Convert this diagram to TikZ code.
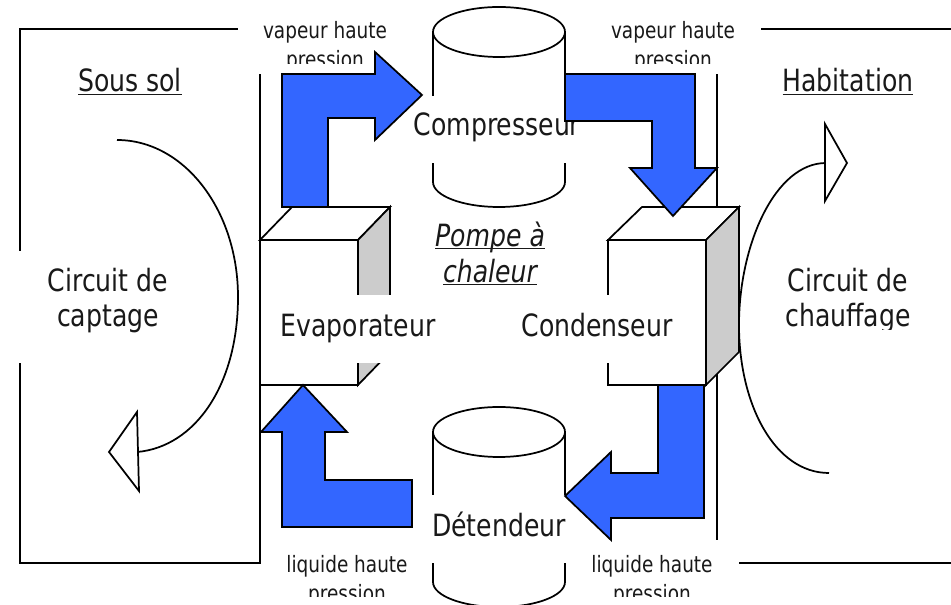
\documentclass[tikz,border=0pt]{standalone}
\usepackage{fontspec}
\setmainfont[FakeStretch=0.82]{DejaVu Sans}
\definecolor{flowblue}{HTML}{3366FF}
\definecolor{sidegray}{HTML}{CCCCCC}
\newcommand{\ulin}[1]{\underline{\smash{#1}}}
\tikzset{
  wire/.style={line width=1.3pt,line join=miter},
  flow/.style={wire,fill=flowblue},
  mask/.style={fill=white,draw=none},
  bigtxt/.style={inner sep=0pt,align=center,text=black!90,font=\fontsize{23}{26.25}\selectfont},
  smalltxt/.style={inner sep=0pt,align=center,text=black!90,font=\fontsize{16.9}{21.75}\selectfont}
}
\begin{document}
\begin{tikzpicture}[x=0.75pt,y=-0.75pt]
\clip (0,0) rectangle (951,605);
\fill[white] (0,0) rectangle (951,605);

% enclosures
\draw[wire] (20,29) rectangle (260,563);
\draw[wire] (951,29) -- (717,29) -- (717,563) -- (951,563);

% circuits
\draw[wire] (117,140) .. controls (184,140) and (238,210) .. (238,297) .. controls (238,385) and (195,447) .. (137,452);
\draw[wire] (826,163) .. controls (775,163) and (739,245) .. (739,325) .. controls (739,405) and (775,473) .. (829,473);
\draw[wire,fill=white] (109,452) -- (137,412) -- (139,491) -- cycle;
\draw[wire,fill=white] (825,124) -- (847,163) -- (825,201) -- cycle;

% cylinders
\draw[wire,fill=white] (433,32) -- (433,182) arc[start angle=180,end angle=0,x radius=66,y radius=25] -- (565,32);
\draw[wire,fill=white] (499,32) ellipse[x radius=66,y radius=25];
\draw[wire,fill=white] (433,432) -- (433,582) arc[start angle=180,end angle=0,x radius=66,y radius=25] -- (565,432);
\draw[wire,fill=white] (499,432) ellipse[x radius=66,y radius=25];

% cubes
\draw[wire,fill=white] (260,240) rectangle (358,385);
\draw[wire,fill=white] (260,240) -- (292,207) -- (390,207) -- (358,240) -- cycle;
\draw[wire,fill=sidegray] (358,240) -- (390,207) -- (390,352) -- (358,385) -- cycle;
\draw[wire,fill=white] (608,240) rectangle (706,385);
\draw[wire,fill=white] (608,240) -- (642,207) -- (739,207) -- (706,240) -- cycle;
\draw[wire,fill=sidegray] (706,240) -- (739,207) -- (739,352) -- (706,385) -- cycle;

% white boxes behind the texts
\fill[mask] (238,0) rectangle (420,74);
\fill[mask] (585,0) rectangle (761,74);
\fill[mask] (262,540) rectangle (432,605);
\fill[mask] (590,540) rectangle (739,605);
\fill[mask] (15,251) rectangle (195,363);
\fill[mask] (400,96) rectangle (590,163);
\fill[mask] (420,495) rectangle (585,563);
\fill[mask] (262,295) rectangle (445,363);
\fill[mask] (512,295) rectangle (705,363);

\begin{scope}
\clip (238,0) rectangle (420,64);
\node[smalltxt] (vapeurl) at (325,47) {vapeur haute\\pression};
\end{scope}
\begin{scope}
\clip (585,0) rectangle (761,64);
\node[smalltxt] (vapeurr) at (673,47) {vapeur haute\\pression};
\end{scope}
\begin{scope}
\clip (262,540) rectangle (432,597);
\node[smalltxt] (liquidel) at (347,581) {liquide haute\\pression};
\end{scope}
\begin{scope}
\clip (590,540) rectangle (739,597);
\node[smalltxt] (liquider) at (652,581) {liquide haute\\pression};
\end{scope}
\begin{scope}
\clip (745,251) rectangle (951,330);
\node[bigtxt] (chauffage) at (848,301) {Circuit de\\chauffage};
\end{scope}

\node[bigtxt] (captage) at (108,301) {Circuit de\\captage};
\node[bigtxt,anchor=base] (soussol) at (130,92) {\ulin{Sous sol}};
\node[bigtxt,anchor=base] (habitation) at (848,92) {\ulin{Habitation}};
\node[bigtxt,font=\fontsize{23}{27}\selectfont\itshape] (pompe) at (490,266) {\ulin{Pompe à}\\\ulin{chaleur}};
\node[bigtxt,anchor=base] (compresseur) at (497,136) {Compresseur};
\node[bigtxt,anchor=base] (detendeur) at (499,537) {Détendeur};
\node[bigtxt,anchor=base] (evaporateur) at (358,337) {Evaporateur};
\node[bigtxt,anchor=base] (condenseur) at (597,337) {Condenseur};

% flow arrows
\draw[flow] (282,207) -- (328,207) -- (328,118) -- (375,118) -- (375,140) -- (422,95) -- (375,52) -- (375,74) -- (282,74) -- cycle;
\draw[flow] (565,74) -- (695,74) -- (695,168) -- (717,168) -- (673,216) -- (630,168) -- (652,168) -- (652,121) -- (565,121) -- cycle;
\draw[flow] (658,385) -- (704,385) -- (704,518) -- (611,518) -- (611,540) -- (565,496) -- (611,452) -- (611,473) -- (658,473) -- cycle;
\draw[flow] (303,385) -- (347,432) -- (325,432) -- (325,480) -- (412,480) -- (412,527) -- (282,527) -- (282,432) -- (261,432) -- cycle;
\end{tikzpicture}
\end{document}
